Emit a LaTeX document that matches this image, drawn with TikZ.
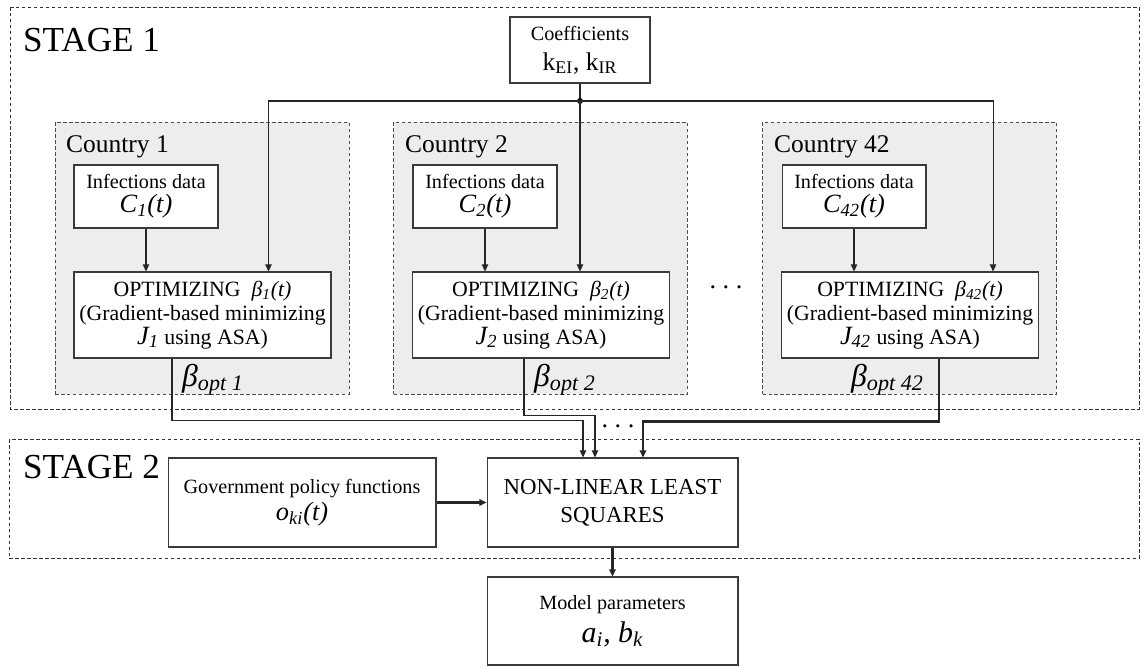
\documentclass[tikz,border=0pt]{standalone}
\usepackage{fontspec}
\setmainfont{Liberation Serif}
\usetikzlibrary{arrows.meta}
\usepackage{xcolor}
\definecolor{boxline}{HTML}{3A3A3A}
\definecolor{countrygray}{HTML}{EDEDED}
\newcommand{\fsz}[2]{\fontsize{#1}{#2}\selectfont}

\begin{document}
\begin{tikzpicture}[x=0.02cm, y=-0.02cm,
  box/.style={draw=boxline, line width=0.6pt, fill=white, align=center, inner sep=0pt},
  stageframe/.style={draw=black!80, line width=0.5pt, dash pattern=on 2pt off 1.4pt},
  countryframe/.style={draw=black!70, line width=0.5pt, dash pattern=on 2pt off 1.4pt, fill=countrygray, inner sep=0pt},
  arr/.style={-{Triangle[length=4pt,width=3.6pt]}, line width=0.6pt, draw=black!85},
  thickarr/.style={arr, line width=1.3pt}]
  \useasboundingbox (0,0) rectangle (1145,667);

  % Stage frames
  \draw[stageframe] (10,7) rectangle (1139,409);
  \draw[stageframe] (9,439) rectangle (1139,558);
  \node[anchor=base west, font=\fsz{20}{24}] (stage1) at (17,51) {STAGE 1};
  \node[anchor=base west, font=\fsz{20}{24}] (stage2) at (17,478) {STAGE 2};

  % Coefficients
  \node[box, minimum width=2.8cm, minimum height=1.32cm, font=\fsz{11.5}{17}] (coef) at (580,50)
    {Coefficients\\{\fsz{14.5}{17}k\textsubscript{EI}, k\textsubscript{IR}}};
  \coordinate (split) at (580,101);

  % Country 1
  \node[countryframe, minimum width=5.88cm, minimum height=5.44cm] (country1) at (202,258) {};
  \node[anchor=base west, font=\fsz{14.5}{17}] (country1label) at (60,152) {Country 1};
  \node[box, minimum width=2.88cm, minimum height=1.26cm, font=\fsz{11.5}{13.5}] (inf1) at (146,196.5)
    {Infections data\\{\fsz{15}{13.5}\itshape C\textsubscript{1}(t)}};
  \node[box, minimum width=5.14cm, minimum height=1.72cm, font=\fsz{12.4}{13.5}] (opt1) at (202.5,315)
    {OPTIMIZING\ \ {\itshape β\textsubscript{1}(t)}\\(Gradient-based minimizing\\{\fsz{15}{13.5}\itshape J\textsubscript{1}} using ASA)};
  \node[anchor=base west, font=\fsz{18}{20}\itshape] (bopt1) at (176,386) {β\textsubscript{opt 1}};

  % Country 2
  \node[countryframe, minimum width=5.88cm, minimum height=5.44cm] (country2) at (540.5,258) {};
  \node[anchor=base west, font=\fsz{14.5}{17}] (country2label) at (399,152) {Country 2};
  \node[box, minimum width=2.88cm, minimum height=1.26cm, font=\fsz{11.5}{13.5}] (inf2) at (485,196.5)
    {Infections data\\{\fsz{15}{13.5}\itshape C\textsubscript{2}(t)}};
  \node[box, minimum width=5.14cm, minimum height=1.72cm, font=\fsz{12.4}{13.5}] (opt2) at (541,315)
    {OPTIMIZING\ \ {\itshape β\textsubscript{2}(t)}\\(Gradient-based minimizing\\{\fsz{15}{13.5}\itshape J\textsubscript{2}} using ASA)};
  \node[anchor=base west, font=\fsz{18}{20}\itshape] (bopt2) at (528,386) {β\textsubscript{opt 2}};

  % Country 42
  \node[countryframe, minimum width=5.88cm, minimum height=5.44cm] (country42) at (909.5,258) {};
  \node[anchor=base west, font=\fsz{14.5}{17}] (country42label) at (768,152) {Country 42};
  \node[box, minimum width=2.88cm, minimum height=1.26cm, font=\fsz{11.5}{13.5}] (inf42) at (854,196.5)
    {Infections data\\{\fsz{15}{13.5}\itshape C\textsubscript{42}(t)}};
  \node[box, minimum width=5.14cm, minimum height=1.72cm, font=\fsz{12.4}{13.5}] (opt42) at (910,315)
    {OPTIMIZING\ \ {\itshape β\textsubscript{42}(t)}\\(Gradient-based minimizing\\{\fsz{15}{13.5}\itshape J\textsubscript{42}} using ASA)};
  \node[anchor=base west, font=\fsz{18}{20}\itshape] (bopt42) at (845,386) {β\textsubscript{opt 42}};

  \node[font=\fsz{15}{15}] (dotsmid) at (726,287) {.\ .\ .};

  % Stage 2 boxes
  \node[box, minimum width=5.36cm, minimum height=1.78cm, font=\fsz{11.5}{15.5}] (gov) at (302,502.5)
    {Government policy functions\\{\fsz{15}{15.5}\itshape o\textsubscript{ki}(t)}};
  \node[box, minimum width=5.02cm, minimum height=1.78cm, font=\fsz{13}{16}] (nlls) at (612.5,502.5)
    {NON-LINEAR LEAST\\SQUARES};
  \node[box, minimum width=5.02cm, minimum height=1.76cm, font=\fsz{11.5}{19}] (model) at (612.5,621)
    {Model parameters\\{\fsz{17}{19}\itshape a\textsubscript{i}, b\textsubscript{k}}};
  \node[font=\fsz{15}{15}] (dotslow) at (618,426) {.\ .\ .};

  % Coefficients to every country
  \draw[line width=0.6pt, draw=black!85] (coef) -- (split);
  \fill (split) circle (0.06cm);
  \draw[arr] (split) -| ([xshift=-1.26cm]opt1.north east);
  \draw[arr] (split) -- (split |- opt2.north);
  \draw[arr] (split) -| ([xshift=-0.92cm]opt42.north east);

  % Data into optimizing
  \draw[arr] (inf1) -- (inf1 |- opt1.north);
  \draw[arr] (inf2) -- (inf2 |- opt2.north);
  \draw[arr] (inf42) -- (inf42 |- opt42.north);

  % Optimal betas into least squares
  \draw[arr] ([xshift=-0.61cm]opt1.south) -- ++(0,62) -| ([xshift=-0.59cm]nlls.north);
  \draw[arr] ([xshift=-0.34cm]opt2.south) -- ++(0,57) -| ([xshift=-0.35cm]nlls.north);
  \draw[thickarr] ([xshift=0.58cm]opt42.south) -- ++(0,63) -| ([xshift=0.61cm]nlls.north);

  \draw[thickarr] (gov) -- (nlls);
  \draw[thickarr] (nlls) -- (model);
\end{tikzpicture}
\end{document}
